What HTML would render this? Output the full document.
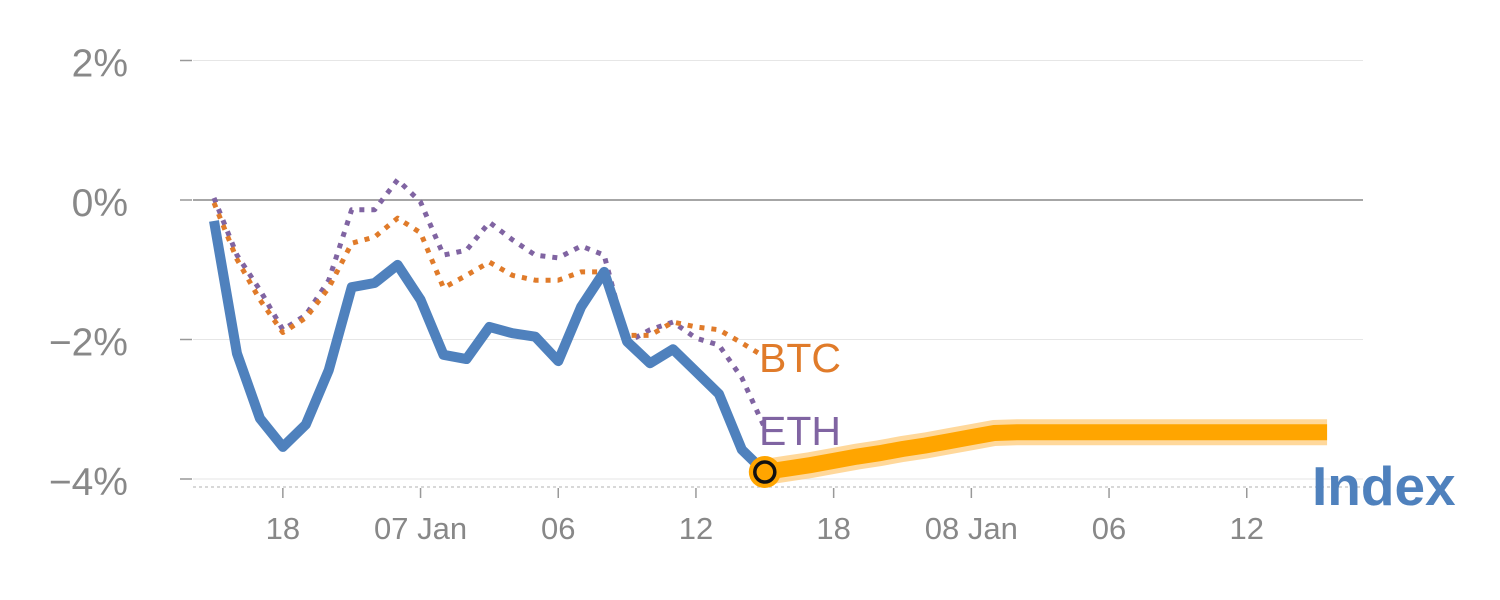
<!DOCTYPE html>
<html><head><meta charset="utf-8">
<style>
html,body{margin:0;padding:0;background:#fff;}
svg{display:block;font-family:"Liberation Sans",Arial,sans-serif;}
</style></head>
<body>
<svg id="chart" width="1500" height="600" viewBox="0 0 1500 600"></svg>
<script>
const indexValues=[-0.3,-2.2,-3.13,-3.54,-3.22,-2.44,-1.25,-1.19,-0.93,-1.43,-2.22,-2.28,-1.82,-1.91,-1.96,-2.31,-1.53,-1.03,-2.03,-2.34,-2.14,-2.46,-2.78,-3.58,-3.9];
const btcValues=[-0.04,-0.85,-1.43,-1.9,-1.69,-1.26,-0.62,-0.53,-0.26,-0.47,-1.26,-1.08,-0.89,-1.08,-1.15,-1.15,-1.03,-1.03,-1.94,-1.94,-1.75,-1.82,-1.86,-2.05,-2.25];
const ethValues=[0.03,-0.79,-1.29,-1.86,-1.65,-1.15,-0.14,-0.14,0.29,-0.03,-0.79,-0.72,-0.32,-0.57,-0.79,-0.83,-0.66,-0.79,-2.04,-1.86,-1.75,-1.98,-2.08,-2.55,-3.27];
const forecastHours=[24,25,26,27,28,29,30,31,32,33,34,35,40,45,48.5];
const forecastValues=[-3.9,-3.85,-3.8,-3.74,-3.68,-3.63,-3.57,-3.52,-3.46,-3.4,-3.34,-3.33,-3.33,-3.33,-3.33];
const yTicks=[2,0,-2,-4];
const yTickLabels=["2%","0%","\u22122%","\u22124%"];
const xTickHours=[3,9,15,21,27,33,39,45];
const xTickLabels=["18","07 Jan","06","12","18","08 Jan","06","12"];

const svg=document.getElementById('chart');
const NS="http://www.w3.org/2000/svg";
const xS=h=>214+h*22.95;
const yS=v=>200-v*69.75;
function mk(tag,attrs,parent){const e=document.createElementNS(NS,tag);for(const k in attrs)e.setAttribute(k,attrs[k]);(parent||svg).appendChild(e);return e;}

yTicks.forEach((v,i)=>{
  const g=mk('line',{x1:193,x2:1363,y1:yS(v),y2:yS(v),stroke:v===0?'#888':'#e6e6e6','stroke-width':v===0?1.5:1});
  
  
  const t=mk('line',{x1:180,x2:192,y1:yS(v),y2:yS(v),stroke:'#999','stroke-width':1.5});
  
  
  const l=mk('text',{x:128,y:yS(v)+16,'text-anchor':'end','font-size':39,fill:'#888'});
  l.textContent=yTickLabels[i];
  
  
});
const ax=mk('line',{x1:193,x2:1365,y1:487,y2:487,stroke:'#ccc','stroke-width':1.5,'stroke-dasharray':'3,3'});


xTickHours.forEach((h,i)=>{
  const t=mk('line',{x1:xS(h),x2:xS(h),y1:488,y2:498,stroke:'#999','stroke-width':1.5});
  
  
  const l=mk('text',{x:xS(h),y:539,'text-anchor':'middle','font-size':31,fill:'#888'});
  l.textContent=xTickLabels[i];
  
  
});
const pts=(arr,hrs)=>arr.map((v,i)=>xS(hrs?hrs[i]:i)+','+yS(v)).join(' ');
const eth=mk('polyline',{points:pts(ethValues),fill:'none',stroke:'#8064a2','stroke-width':5,'stroke-dasharray':'5,7','stroke-linejoin':'round'});


const btc=mk('polyline',{points:pts(btcValues),fill:'none',stroke:'#e07b2a','stroke-width':5,'stroke-dasharray':'5,7','stroke-linejoin':'round'});


const idx=mk('polyline',{points:pts(indexValues),fill:'none',stroke:'#4f81bd','stroke-width':10,'stroke-linejoin':'round'});


const fg=mk('polyline',{points:pts(forecastValues,forecastHours),fill:'none',stroke:'#ffc870','stroke-width':26,'stroke-opacity':0.7});


const fl=mk('polyline',{points:pts(forecastValues,forecastHours),fill:'none',stroke:'#ffa500','stroke-width':16});


const last=indexValues.length-1;
const m1=mk('circle',{cx:xS(last),cy:yS(indexValues[last]),r:16,fill:'#ffa500'});


const m2=mk('circle',{cx:xS(last),cy:yS(indexValues[last]),r:10,fill:'#ffa500',stroke:'#111','stroke-width':3.5});


const bl=mk('text',{x:759,y:372,'font-size':41,fill:'#e07b2a'});bl.textContent='BTC';


const el=mk('text',{x:759,y:445,'font-size':41,fill:'#8064a2'});el.textContent='ETH';


const il=mk('text',{x:1312,y:505,'font-size':55,'font-weight':'bold',fill:'#4f81bd'});il.textContent='Index';


</script>
</body></html>
